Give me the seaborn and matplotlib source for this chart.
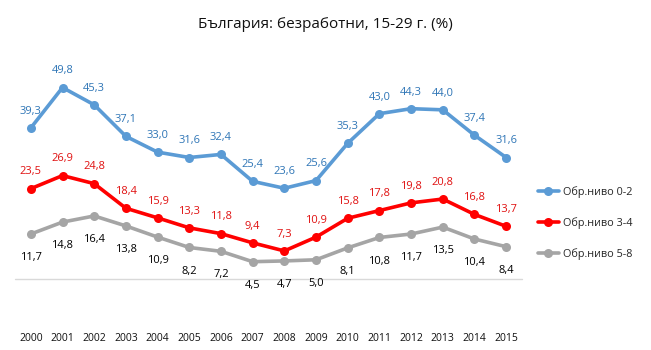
import matplotlib
matplotlib.use("Agg")
import matplotlib.pyplot as plt
import seaborn as sns
import pandas as pd

years = list(range(2000, 2016))
series_names = ["Обр.ниво 0-2", "Обр.ниво 3-4", "Обр.ниво 5-8"]
level_0_2 = [39.3, 49.8, 45.3, 37.1, 33.0, 31.6, 32.4, 25.4, 23.6, 25.6, 35.3, 43.0, 44.3, 44.0, 37.4, 31.6]
level_3_4 = [23.5, 26.9, 24.8, 18.4, 15.9, 13.3, 11.8, 9.4, 7.3, 10.9, 15.8, 17.8, 19.8, 20.8, 16.8, 13.7]
level_5_8 = [11.7, 14.8, 16.4, 13.8, 10.9, 8.2, 7.2, 4.5, 4.7, 5.0, 8.1, 10.8, 11.7, 13.5, 10.4, 8.4]
title = "България: безработни, 15-29 г. (%)"

colors = ["#5B9BD5", "#FF0000", "#A5A5A5"]
label_colors = ["#2E75B6", "#E01010", "#000000"]
label_offsets = [12, 12, -17]

df = pd.DataFrame({
    "year": years * 3,
    "value": level_0_2 + level_3_4 + level_5_8,
    "series": [series_names[0]] * 16 + [series_names[1]] * 16 + [series_names[2]] * 16,
})

sns.set_style("white")
plt.rcParams["font.family"] = ["Open Sans", "DejaVu Sans"]

fig = plt.figure(figsize=(6.51, 3.5), dpi=100)
ax = fig.add_axes([15 / 651, 71 / 350, (522 - 15) / 651, (279 - 56) / 350])

sns.lineplot(data=df, x="year", y="value", hue="series", palette=colors,
             marker="o", markersize=6.5, markeredgewidth=0, linewidth=2.6,
             ax=ax, legend=True)

for vals, lc, off in zip([level_0_2, level_3_4, level_5_8], label_colors, label_offsets):
    for x, v in zip(years, vals):
        ax.annotate(f"{v:.1f}".replace(".", ","), (x, v), xytext=(0, off),
                    textcoords="offset points", ha="center", va="center",
                    fontsize=8, color=lc)

ax.set_xlim(1999.5, 2015.5)
ax.set_ylim(0, 58)
ax.axhline(0, color="#D9D9D9", linewidth=1, clip_on=False, zorder=0)
for s in ax.spines.values():
    s.set_visible(False)
ax.set_yticks([])
ax.set_xticks(years)
ax.set_xticklabels([str(y) for y in years], fontsize=7.5, color="#111111")
ax.tick_params(axis="x", length=0, pad=39)
ax.set_xlabel("")
ax.set_ylabel("")

handles, labels = ax.get_legend_handles_labels()
ax.get_legend().remove()
leg = fig.legend(handles, labels, loc="center left", bbox_to_anchor=(538 / 651, 1 - 223 / 350),
                 frameon=False, fontsize=7.8, handlelength=1.9, handletextpad=0.45,
                 labelspacing=1.8, borderpad=0, borderaxespad=0)
for h in leg.legend_handles:
    h.set_linewidth(2.6)

fig.text(0.5, 1 - 25 / 350, title, ha="center", va="center", fontsize=11, color="#111111")

fig.savefig("out.png", dpi=100, facecolor="white")
